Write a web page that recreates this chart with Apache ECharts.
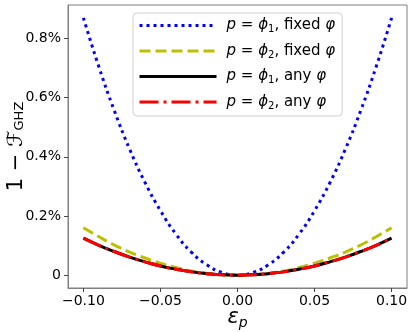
<!DOCTYPE html>
<html>
<head>
<meta charset="utf-8">
<script src="https://cdn.jsdelivr.net/npm/echarts@6/dist/echarts.min.js"></script>
<style>
  html, body { margin: 0; padding: 0; background: #fff; }
  #chart { width: 415px; height: 332px; }
</style>
</head>
<body>
<div id="chart"></div>
<script>
// error along x
const epsValues = [-0.10, -0.09, -0.08, -0.07, -0.06, -0.05, -0.04, -0.03, -0.02, -0.01, 0,
  0.01, 0.02, 0.03, 0.04, 0.05, 0.06, 0.07, 0.08, 0.09, 0.10]
// 1 - F_GHZ in percent
const phi1Fixed = [0.870, 0.705, 0.557, 0.426, 0.313, 0.218, 0.139, 0.078, 0.035, 0.009, 0,
  0.009, 0.035, 0.078, 0.139, 0.218, 0.313, 0.426, 0.557, 0.705, 0.870]
const phi2Fixed = [0.160, 0.130, 0.102, 0.078, 0.058, 0.040, 0.026, 0.014, 0.006, 0.002, 0,
  0.002, 0.006, 0.014, 0.026, 0.040, 0.058, 0.078, 0.102, 0.130, 0.160]
const phi1Any = [0.125, 0.101, 0.080, 0.061, 0.045, 0.031, 0.020, 0.011, 0.005, 0.001, 0,
  0.001, 0.005, 0.011, 0.020, 0.031, 0.045, 0.061, 0.080, 0.101, 0.125]
const phi2Any = [0.125, 0.101, 0.080, 0.061, 0.045, 0.031, 0.020, 0.011, 0.005, 0.001, 0,
  0.001, 0.005, 0.011, 0.020, 0.031, 0.045, 0.061, 0.080, 0.101, 0.125]
const xTicks = [-0.10, -0.05, 0, 0.05, 0.10]
const yTicks = [0, 0.2, 0.4, 0.6, 0.8]
const seriesNames = ['p1fixed', 'p2fixed', 'p1any', 'p2any']
const legendLabels = {
  p1fixed: '{i|p} = {i|ϕ}{s|1}, fixed {i|φ}',
  p2fixed: '{i|p} = {i|ϕ}{s|2}, fixed {i|φ}',
  p1any: '{i|p} = {i|ϕ}{s|1}, any {i|φ}',
  p2any: '{i|p} = {i|ϕ}{s|2}, any {i|φ}'
}

const FONT = 'DejaVu Sans'
const AXIS_COLOR = '#808080'

function pairs(ys) {
  return epsValues.map((x, i) => [x, ys[i]])
}

function makeSeries(name, ys, color, dash) {
  return {
    name: name,
    type: 'line',
    data: pairs(ys),
    smooth: true,
    symbol: 'none',
    animation: false,
    lineStyle: { color: color, width: 3, type: dash, cap: 'butt' },
    itemStyle: { color: color }
  }
}

const chart = echarts.init(document.getElementById('chart'))
chart.setOption({
  backgroundColor: '#fff',
  grid: {
    left: 68, top: 5, right: 8, bottom: 44,
    containLabel: false,
    outerBoundsMode: 'none',
    show: true, borderColor: AXIS_COLOR, borderWidth: 1
  },
  xAxis: {
    type: 'value',
    min: -0.11, max: 0.11,
    name: '{i|ε}{s|p}',
    nameLocation: 'middle',
    nameGap: 18,
    nameMoveOverlap: false,
    nameTextStyle: {
      rich: {
        i: { fontFamily: FONT, fontSize: 21, fontStyle: 'italic', color: '#000' },
        s: { fontFamily: FONT, fontSize: 14, fontStyle: 'italic', color: '#000', verticalAlign: 'bottom', padding: [10, 0, 0, 0] }
      }
    },
    axisLine: { show: true, onZero: false, lineStyle: { color: AXIS_COLOR } },
    axisTick: { show: true, inside: false, length: 4, lineStyle: { color: '#444' }, customValues: xTicks },
    axisLabel: {
      customValues: xTicks,
      margin: 6,
      fontFamily: FONT, fontSize: 14, color: '#000',
      formatter: v => (v < 0 ? '\u2212' : '') + Math.abs(v).toFixed(2)
    },
    splitLine: { show: false }
  },
  yAxis: {
    type: 'value',
    min: -0.0435, max: 0.9135,
    name: '1 − {i|ℱ}{s|GHZ}',
    nameLocation: 'middle',
    nameGap: 41,
    nameMoveOverlap: false,
    nameTextStyle: {
      fontFamily: FONT, fontSize: 21, color: '#000',
      rich: {
        i: { fontFamily: FONT, fontSize: 21, fontStyle: 'italic', color: '#000' },
        s: { fontFamily: FONT, fontSize: 13, color: '#000', padding: [7, 0, 0, 0] }
      }
    },
    axisLine: { show: true, onZero: false, lineStyle: { color: AXIS_COLOR } },
    axisTick: { show: true, inside: false, length: 4, lineStyle: { color: '#444' }, customValues: yTicks },
    axisLabel: {
      customValues: yTicks,
      margin: 7,
      fontFamily: FONT, fontSize: 14, color: '#000',
      formatter: v => (v === 0 ? '0' : v.toFixed(1) + '%')
    },
    splitLine: { show: false }
  },
  legend: {
    left: 133, top: 13,
    orient: 'vertical',
    data: seriesNames,
    itemWidth: 77, itemHeight: 14, itemGap: 9,
    padding: [5, 7, 5, 5],
    backgroundColor: '#fff',
    borderColor: '#d0d0d0', borderWidth: 1, borderRadius: 4,
    itemStyle: { opacity: 0 },
    lineStyle: { width: 3 },
    formatter: name => legendLabels[name],
    textStyle: {
      fontFamily: FONT, fontSize: 15, color: '#000',
      padding: [0, 0, 0, 5],
      rich: {
        i: { fontFamily: FONT, fontSize: 15, fontStyle: 'italic', color: '#000' },
        s: { fontFamily: FONT, fontSize: 10, color: '#000', verticalAlign: 'bottom', padding: [8, 0, 0, 0] }
      }
    }
  },
  series: [
    makeSeries('p1fixed', phi1Fixed, '#0000ff', [3, 4]),
    makeSeries('p2fixed', phi2Fixed, '#bfbf00', [11, 5]),
    makeSeries('p1any', phi1Any, '#000000', 'solid'),
    makeSeries('p2any', phi2Any, '#ff0000', [19, 5, 3, 5])
  ]
})
</script>
</body>
</html>
